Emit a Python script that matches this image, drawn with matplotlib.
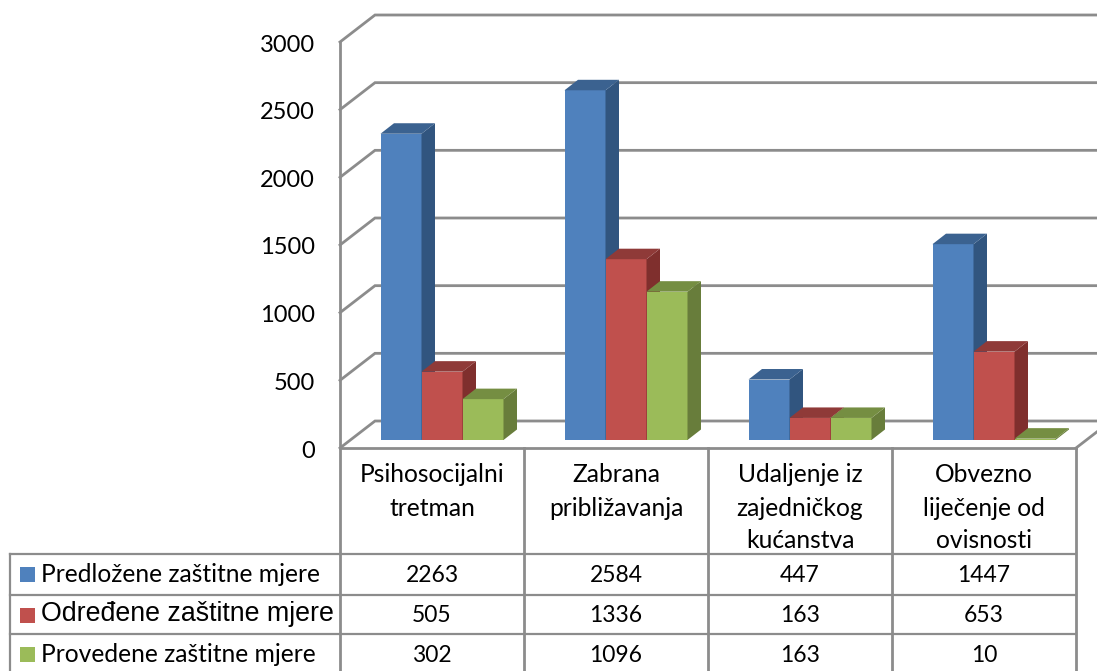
import matplotlib
matplotlib.use("Agg")
import matplotlib.pyplot as plt

# values
categories = ["Psihosocijalni\ntretman", "Zabrana\npribližavanja",
              "Udaljenje iz\nzajedničkog\nkućanstva", "Obvezno\nliječenje od\novisnosti"]
series_names = ["Predložene zaštitne mjere", "Određene zaštitne mjere", "Provedene zaštitne mjere"]
predlozene = [2263, 2584, 447, 1447]
odredene = [505, 1336, 163, 653]
provedene = [302, 1096, 163, 10]
y_ticks = [0, 500, 1000, 1500, 2000, 2500, 3000]

front_cols = ["#4F81BD", "#C0504D", "#9BBB59"]
side_cols = ["#31557F", "#7F2F2D", "#687D3B"]
top_cols = ["#3B6290", "#8F3A38", "#758E42"]
GRID = "#8C8C8C"

W, H = 1097, 671
PX_CAT = 184.0          # pixels per category
PX_VAL = 406 / 3000.0   # pixels per value unit
X0, Y0 = 340.0, 448.0   # pixel position of data origin


def dx(px):
    return px / PX_CAT


def dy(px):
    return px / PX_VAL


def row(py):
    # pixel row from the top of the image to value units
    return (Y0 - py) / PX_VAL


plt.rcParams["font.family"] = ["Lato", "DejaVu Sans"]
fig = plt.figure(figsize=(W / 100, H / 100), dpi=100)
ax = fig.add_axes([0, 0, 1, 1])
ax.set_xlim(-X0 / PX_CAT, (W - X0) / PX_CAT)
ax.set_ylim(row(H), row(0))
ax.axis("off")

# walls and gridlines
depth_x, depth_y = dx(35), dy(27)
n = len(predlozene)
for v in y_ticks:
    ax.plot([0, depth_x, n + depth_x], [v, v + depth_y, v + depth_y], color=GRID, lw=2.0, zorder=1,
            solid_joinstyle="miter")
    ax.text(dx(-25), v - dy(3), str(v), ha="right", va="center", fontsize=17, color="black")
ax.plot([0, 0], [row(H), 3000], color=GRID, lw=2.0, zorder=1)
ax.plot([0, n], [0, 0], color=GRID, lw=2.0, zorder=1)
ax.plot([n, n + depth_x], [0, depth_y], color=GRID, lw=2.0, zorder=1)

# bars
bar_w = 41 / PX_CAT
base = dy(8)
shift = dx(10)
off_x, off_y = dx(13.5), dy(10.5)
for s, vals in enumerate([predlozene, odredene, provedene]):
    for i, v in enumerate(vals):
        left = i + 0.5 - 1.5 * bar_w + s * bar_w + shift
        right = left + bar_w
        ax.bar(left, v, width=bar_w, bottom=base, align="edge", color=front_cols[s], lw=0, zorder=3)
        top = v + base
        ax.fill([right, right + off_x, right + off_x, right],
                [base, base + off_y, top + off_y, top], color=side_cols[s], lw=0, zorder=3)
        ax.fill([left, left + off_x, right + off_x, right],
                [top, top + off_y, top + off_y, top], color=top_cols[s], lw=0, zorder=3)

# data table
for i in range(1, n + 1):
    ax.plot([i, i], [0, row(H)], color=GRID, lw=2.0, zorder=1)
left_edge = dx(10 - X0)
for py in [554, 595, 634]:
    ax.plot([left_edge, n], [row(py), row(py)], color=GRID, lw=1.6, zorder=1)
ax.plot([left_edge, left_edge], [row(554), row(H)], color=GRID, lw=1.6, zorder=1)

for i, name in enumerate(categories):
    for k, line in enumerate(name.split("\n")):
        ax.text(i + 0.5, row(475 + 33 * k), line, ha="center", va="center", fontsize=17.7)

rows_y = [574, 614, 654]
swatch_y = [574.5, 615.5, 654.5]
for s, vals in enumerate([predlozene, odredene, provedene]):
    ax.bar(dx(27.5 - X0), dy(15), width=dx(15), bottom=row(swatch_y[s] + 7.5), color=front_cols[s], lw=0, zorder=3)
    if s == 1:
        ax.text(dx(41 - X0), row(rows_y[s]), series_names[s], ha="left", va="center", fontsize=19.3,
                family="Liberation Sans")
    else:
        ax.text(dx(41 - X0), row(rows_y[s]), series_names[s], ha="left", va="center", fontsize=17.7)
    for i, v in enumerate(vals):
        ax.text(i + 0.5, row(rows_y[s] + 1), str(v), ha="center", va="center", fontsize=16.5)

fig.savefig("out.png", dpi=100)
